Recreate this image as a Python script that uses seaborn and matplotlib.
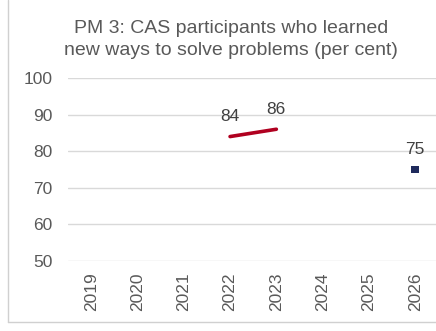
import numpy as np
import pandas as pd
import matplotlib
matplotlib.use("Agg")
import matplotlib.pyplot as plt
from matplotlib.lines import Line2D
import seaborn as sns

years = ["2019", "2020", "2021", "2022", "2023", "2024", "2025", "2026"]
actual = [np.nan, np.nan, np.nan, 84, 86, np.nan, np.nan, np.nan]
target = [np.nan, np.nan, np.nan, np.nan, np.nan, np.nan, np.nan, 75]
y_ticks = [50, 60, 70, 80, 90, 100]
title = "PM 3: CAS participants who learned\nnew ways to solve problems (per cent)"

sns.set_theme(style="white")
plt.rcParams["font.family"] = ["Liberation Sans", "DejaVu Sans"]

df = pd.DataFrame({"pos": np.arange(len(years)), "year": years,
                   "actual": actual, "target": target})

text_col = "#595959"
fig = plt.figure(figsize=(4.36, 3.31), dpi=100)
ax = fig.add_axes([68 / 436, 1 - 261 / 331, 8 * 46.3 / 436, 183 / 331])

sns.lineplot(data=df, x="pos", y="actual", ax=ax, color="#b00020",
             linewidth=2.6, legend=False)
sns.scatterplot(data=df, x="pos", y="target", ax=ax, color="#1f2a5c",
                marker="s", s=32, edgecolor="none", legend=False)

for series in (actual, target):
    for i, v in enumerate(series):
        if not np.isnan(v):
            ax.annotate(f"{v:g}", (i, v), xytext=(0, 14.5), textcoords="offset points",
                        ha="center", va="center", fontsize=12.5, color="#404040")

ax.set_xlim(-0.5, len(years) - 0.5)
ax.set_ylim(50, 100)
ax.set_xticks(np.arange(len(years)))
ax.set_xticklabels(years, rotation=90, fontsize=12.5, color=text_col)
ax.set_yticks(y_ticks)
ax.set_yticklabels([str(t) for t in y_ticks], fontsize=12.5, color=text_col)
ax.tick_params(axis="x", length=0, pad=8)
ax.tick_params(axis="y", length=0, pad=11)
ax.set_xlabel("")
ax.set_ylabel("")
ax.grid(axis="y", color="#d9d9d9", linewidth=1)
for sp in ax.spines.values():
    sp.set_visible(False)

fig.text(231 / 436, 1 - 39.5 / 331, title, ha="center", va="center",
         fontsize=14, color=text_col, linespacing=1.42)

# chart border
fig.add_artist(Line2D([8 / 436, 8 / 436], [1 - 322 / 331, 1], color="#d0d0d0", lw=1))
fig.add_artist(Line2D([8 / 436, 1], [1 - 322 / 331, 1 - 322 / 331], color="#d0d0d0", lw=1))

fig.savefig("out.png", dpi=100)
